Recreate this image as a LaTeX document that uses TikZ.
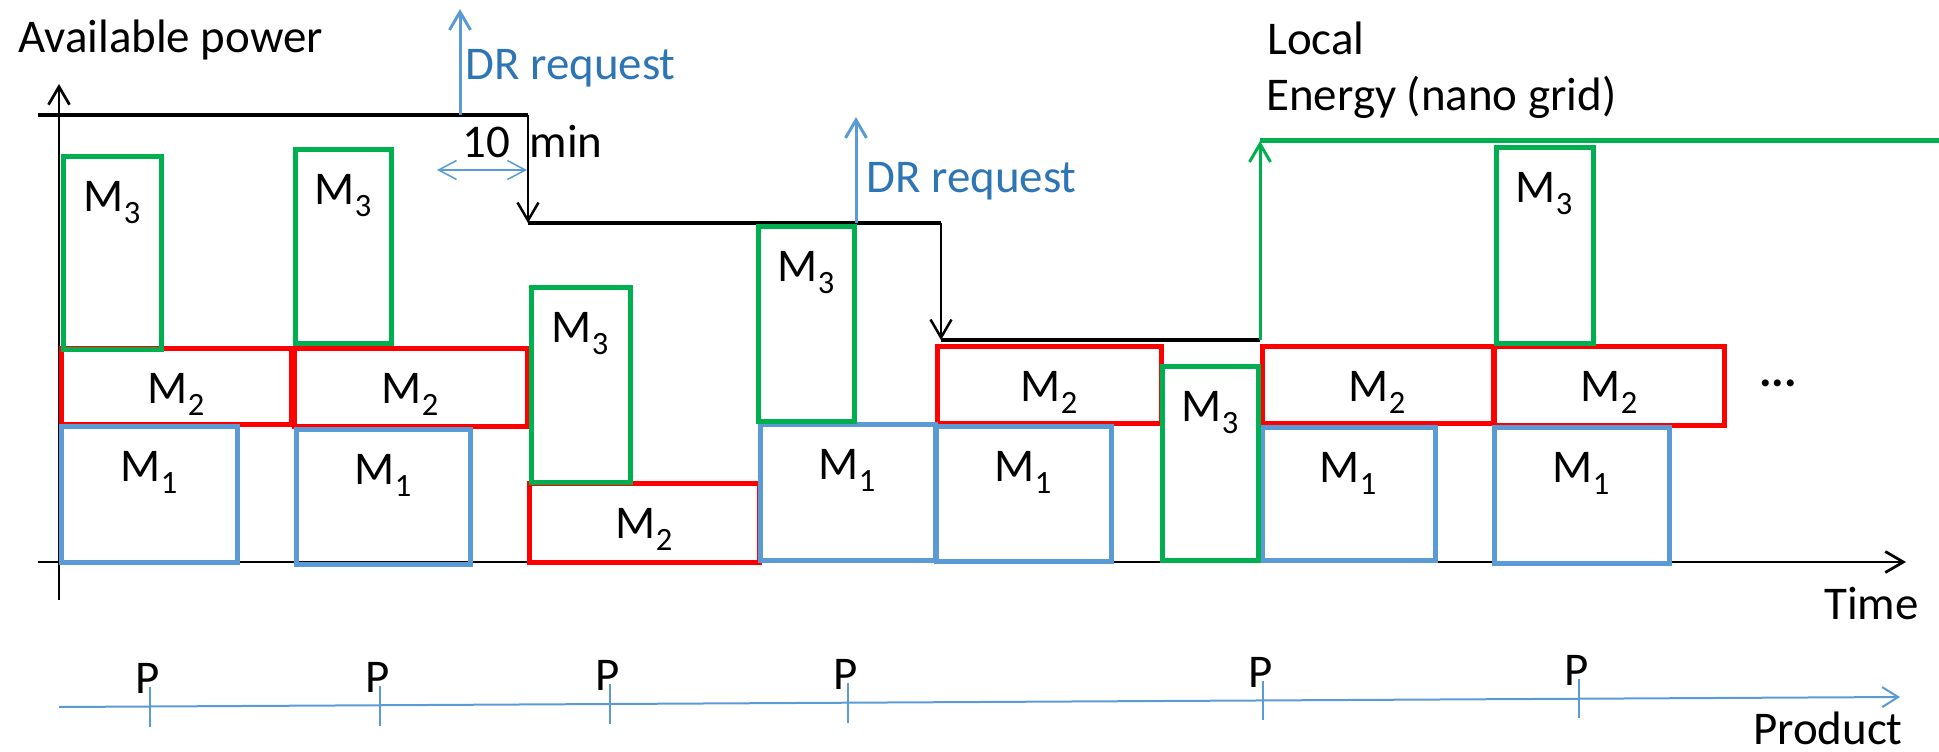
\documentclass[tikz,border=0pt]{standalone}
\usepackage{fontspec}
\setmainfont{Carlito}
\usetikzlibrary{arrows.meta,positioning}
\definecolor{mgreen}{HTML}{00B050}
\definecolor{mred}{HTML}{FF0000}
\definecolor{mblue}{HTML}{5B9BD5}
\definecolor{drblue}{HTML}{2E75B6}
\newcommand{\mlab}[1]{M\raisebox{-0.24em}{\fontsize{18.5}{18}\selectfont #1}}

\begin{document}
\begin{tikzpicture}[x=0.2mm,y=-0.2mm]
		\tikzstyle{every node}=[font=\fontsize{26.7}{32}\selectfont, inner sep=0pt]
		\tikzstyle{mone}=[draw=mblue, line width=1mm]
		\tikzstyle{mtwo}=[draw=mred, line width=1mm]
		\tikzstyle{mthree}=[draw=mgreen, line width=1mm]
		\tikzstyle{lab}=[anchor=base]
		\tikzstyle{stepline}=[line width=0.95mm]
		\tikzstyle{dropline}=[line width=0.5mm]
		\tikzstyle{barb}=[-{Straight Barb[length=3.6mm,width=4.2mm]}]
		\useasboundingbox (0,0) rectangle (1939,752);
		% axes
		\coordinate (ybot) at (59,600);
		\coordinate (ytop) at (59,84);
		\coordinate (tl) at (38,562);
		\coordinate (tr) at (1906,562);
		\draw [line width=0.55mm, barb] (ybot) -- (ytop);
		\draw [line width=0.55mm, barb] (tl) -- (tr);
		\node [anchor=base west] (avail) at (18,53) {Available power};
		\node [anchor=base east] (time) at (1919,620) {Time};
		% available power steps
		\coordinate (a0) at (38,115);
		\coordinate (a1) at (528,115);
		\coordinate (a2) at (528,223);
		\coordinate (a3) at (941,223);
		\coordinate (a4) at (941,340);
		\coordinate (a5) at (1260,340);
		\draw [stepline] (a0) -- (a1);
		\draw [dropline, barb] (a1) -- (a2);
		\draw [stepline] (a2) -- (a3);
		\draw [dropline, barb] (a3) -- (a4);
		\draw [stepline] (a4) -- (a5);
		% DR requests
		\coordinate (d1) at (460,115);
		\coordinate (d1t) at (460,9);
		\coordinate (d2) at (856,223);
		\coordinate (d2t) at (856,117);
		\draw [mblue, line width=0.6mm, barb] (d1) -- (d1t);
		\draw [mblue, line width=0.6mm, barb] (d2) -- (d2t);
		\node [anchor=base west, text=drblue] (dr1) at (465,80) {DR request};
		\node [anchor=base west, text=drblue] (dr2) at (866,193) {DR request};
		\coordinate (w0) at (437,170);
		\coordinate (w1) at (527,170);
		\draw [mblue, line width=0.3mm, {Straight Barb[length=3.6mm,width=3.8mm]}-{Straight Barb[length=3.6mm,width=3.8mm]}] (w0) -- (w1);
		\node [anchor=base west] (wait) at (462,158) {10\hspace{0.42em}min};
		% local energy
		\coordinate (g0) at (1260,340);
		\coordinate (g1) at (1260,141);
		\coordinate (g2) at (1939,141);
		\draw [mgreen, line width=0.6mm, barb] (g0) -- (g1);
		\draw [mgreen, line width=1mm] (g1) -- (g2);
		\node [anchor=base west] (local) at (1267,55) {Local};
		\node [anchor=base west] (energy) at (1266,111) {Energy (nano grid)};
		% M2 jobs
		\draw [mtwo] (61,349) rectangle (291,425);
		\draw [mtwo] (294,349) rectangle (527,427);
		\draw [mtwo] (529,484) rectangle (759,563);
		\draw [mtwo] (937,347) rectangle (1161,424);
		\draw [mtwo] (1262,347) rectangle (1493,424);
		\draw [mtwo] (1494,347) rectangle (1724,426);
		% M1 jobs
		\draw [mone] (61,427) rectangle (237,563);
		\draw [mone] (296,430) rectangle (470,565);
		\draw [mone] (760,425) rectangle (935,561);
		\draw [mone] (936,427) rectangle (1111,562);
		\draw [mone] (1262,428) rectangle (1435,561);
		\draw [mone] (1494,428) rectangle (1669,564);
		% M3 jobs
		\draw [mthree] (63,157) rectangle (161,350);
		\draw [mthree] (295,150) rectangle (391,344);
		\draw [mthree] (531,288) rectangle (630,483);
		\draw [mthree] (758,227) rectangle (854,422);
		\draw [mthree] (1162,367) rectangle (1258,561);
		\draw [mthree] (1496,148) rectangle (1593,344);
		% labels
		\node [lab] (c1) at (112,212) {\mlab{3}};
		\node [lab] (b1) at (176,404) {\mlab{2}};
		\node [lab] (a1l) at (149,482) {\mlab{1}};
		\node [lab] (c2) at (343,205) {\mlab{3}};
		\node [lab] (b2) at (410,404) {\mlab{2}};
		\node [lab] (a2l) at (383,485) {\mlab{1}};
		\node [lab] (c3) at (580,343) {\mlab{3}};
		\node [lab] (b3) at (644,539) {\mlab{2}};
		\node [lab] (c4) at (806,282) {\mlab{3}};
		\node [lab] (a4l) at (847,480) {\mlab{1}};
		\node [lab] (b5) at (1049,402) {\mlab{2}};
		\node [lab] (a5l) at (1023,482) {\mlab{1}};
		\node [lab] (c6) at (1210,422) {\mlab{3}};
		\node [lab] (b7) at (1377,402) {\mlab{2}};
		\node [lab] (a7l) at (1348,483) {\mlab{1}};
		\node [lab] (c8) at (1544,203) {\mlab{3}};
		\node [lab] (b8) at (1609,402) {\mlab{2}};
		\node [lab] (a8l) at (1581,483) {\mlab{1}};
		\node (dots) at (1778,383) {\textbf{...}};
		% products
		\coordinate (p0) at (59,707);
		\coordinate (p1) at (1900,697);
		\draw [mblue, line width=0.4mm, -{Straight Barb[length=3.2mm,width=4mm]}] (p0) -- (p1);
		\draw [mblue, line width=0.25mm] (150,687) -- (150,727);
		\draw [mblue, line width=0.25mm] (380,686) -- (380,726);
		\draw [mblue, line width=0.25mm] (610,684) -- (610,724);
		\draw [mblue, line width=0.25mm] (848,683) -- (848,723);
		\draw [mblue, line width=0.25mm] (1263,681) -- (1263,720);
		\draw [mblue, line width=0.25mm] (1579,679) -- (1579,718);
		\node [lab] (q1) at (148,693) {P};
		\node [lab] (q2) at (378,692) {P};
		\node [lab] (q3) at (608,690) {P};
		\node [lab] (q4) at (846,689) {P};
		\node [lab] (q5) at (1261,687) {P};
		\node [lab] (q6) at (1577,685) {P};
		\node [anchor=base east] (prod) at (1903,744) {Product};
	\end{tikzpicture}
\end{document}
